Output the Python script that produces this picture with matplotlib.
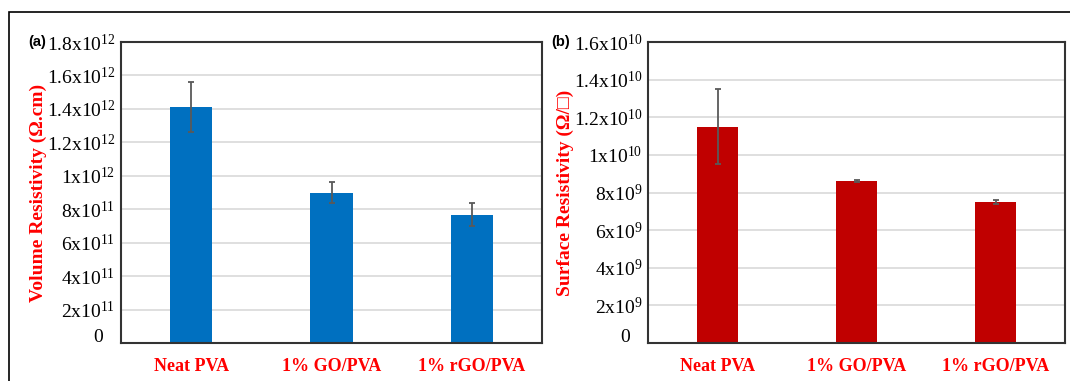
import matplotlib.pyplot as plt
import matplotlib.transforms as mtransforms
from matplotlib.patches import Rectangle

plt.rcParams['mathtext.fontset'] = 'custom'
plt.rcParams['mathtext.rm'] = 'Liberation Serif'
plt.rcParams['mathtext.it'] = 'Liberation Serif:italic'
plt.rcParams['mathtext.bf'] = 'Liberation Serif:bold'

samples = ["Neat PVA", "1% GO/PVA", "1% rGO/PVA"]

# (a) volume resistivity, ohm.cm
volume = [1.41e12, 0.90e12, 0.767e12]
volume_err = [0.15e12, 0.06e12, 0.068e12]
volume_ticks = [0, 2e11, 4e11, 6e11, 8e11, 1e12, 1.2e12, 1.4e12, 1.6e12, 1.8e12]
volume_labels = ['', r'$\mathrm{2x10^{11}}$', r'$\mathrm{4x10^{11}}$',
                 r'$\mathrm{6x10^{11}}$', r'$\mathrm{8x10^{11}}$', r'$\mathrm{1x10^{12}}$',
                 r'$\mathrm{1.2x10^{12}}$', r'$\mathrm{1.4x10^{12}}$', r'$\mathrm{1.6x10^{12}}$',
                 r'$\mathrm{1.8x10^{12}}$']

# (b) surface resistivity, ohm/sq
surface = [1.15e10, 0.86e10, 0.75e10]
surface_err = [0.20e10, 0.006e10, 0.012e10]
surface_ticks = [0, 2e9, 4e9, 6e9, 8e9, 1e10, 1.2e10, 1.4e10, 1.6e10]
surface_labels = ['', r'$\mathrm{2x10^{9}}$', r'$\mathrm{4x10^{9}}$',
                  r'$\mathrm{6x10^{9}}$', r'$\mathrm{8x10^{9}}$', r'$\mathrm{1x10^{10}}$',
                  r'$\mathrm{1.2x10^{10}}$', r'$\mathrm{1.4x10^{10}}$', r'$\mathrm{1.6x10^{10}}$']

fig = plt.figure(figsize=(10.7, 3.81), dpi=100)

# outer frame of the figure panel
fig.patches.append(Rectangle((9 / 1070, -0.1), 1.2, (381 - 12) / 381 + 0.1,
                             transform=fig.transFigure, fill=False,
                             edgecolor='black', linewidth=1.2))

ax1 = fig.add_axes([121 / 1070, 38 / 381, 421 / 1070, 301 / 381])
ax2 = fig.add_axes([648 / 1070, 38 / 381, 417 / 1070, 301 / 381])

panels = [
    (ax1, volume, volume_err, '#0070C0', volume_ticks, volume_labels,
     'Volume Resistivity (Ω.cm)', '(a)', -0.2),
    (ax2, surface, surface_err, '#C00000', surface_ticks, surface_labels,
     'Surface Resistivity (Ω/□)', '(b)', -0.21),
]

for ax, vals, errs, color, ticks, labels, ylab, tag, tag_x in panels:
    x = range(len(samples))
    ax.bar(x, vals, width=0.3, color=color, zorder=2,
           yerr=errs, error_kw=dict(ecolor='#595959', elinewidth=1.3,
                                    capsize=2.5, capthick=1.3))
    ax.set_xlim(-0.5, 2.5)
    ax.set_ylim(ticks[0], ticks[-1])
    ax.set_yticks(ticks)
    ax.set_yticklabels(labels, fontsize=14)
    ax.set_xticks(list(x))
    ax.set_xticklabels(samples, fontsize=13, fontweight='bold', color='red',
                       family='Liberation Serif')
    ax.tick_params(length=0)
    ax.tick_params(axis='x', pad=11)
    ax.tick_params(axis='y', pad=4)
    ax.yaxis.grid(True, color='#D9D9D9', linewidth=1.2, zorder=0)
    ax.set_axisbelow(True)
    for s in ax.spines.values():
        s.set_color('#333333')
        s.set_linewidth(1.5)
    ax.set_ylabel(ylab, fontsize=14, fontweight='bold', color='red',
                  family=['Liberation Serif', 'DejaVu Serif'], labelpad=0)
    ax.text(tag_x, 1.0, tag, transform=ax.transAxes, fontsize=10.5,
            fontweight='bold', family='Liberation Sans', ha='center', va='center')
    # zero label sits left of the others, like Excel does it
    blend = mtransforms.blended_transform_factory(ax.transAxes, ax.transData)
    zero_tr = mtransforms.offset_copy(blend, fig=fig, x=-13, y=4, units='points')
    ax.text(0, ticks[0], '0', transform=zero_tr, fontsize=14,
            family='Liberation Serif', ha='right', va='center')

fig.savefig('out.png', dpi=100)
